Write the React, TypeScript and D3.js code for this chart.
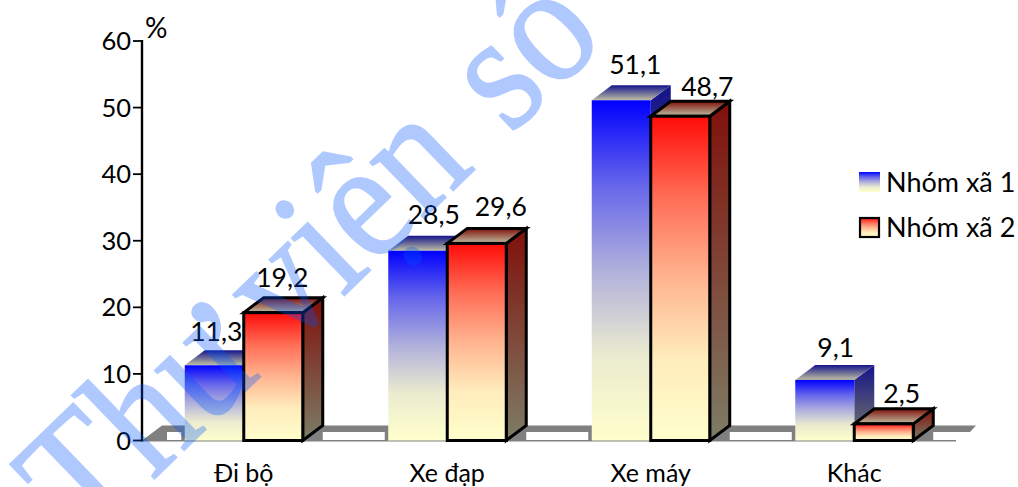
import React from "react";
import * as d3 from "d3";

// Travel modes and the share of trips for each commune group (%)
const categories = ["Đi bộ", "Xe đạp", "Xe máy", "Khác"];
const group1 = [11.3, 28.5, 51.1, 9.1];
const group2 = [19.2, 29.6, 48.7, 2.5];
const yTicks = [0, 10, 20, 30, 40, 50, 60];
const seriesNames = ["Nhóm xã 1", "Nhóm xã 2"];

const W = 1018;
const H = 487;
const AXIS_X = 142;
const FONT = "Lato, 'Open Sans', sans-serif";
const DEPTH_X = 20;
const DEPTH_Y = 15;
const BAR_W = 59;

const x = d3.scaleBand<string>().domain(categories).range([AXIS_X, AXIS_X + 814]);
const y = d3.scaleLinear().domain([0, 60]).range([440.5, 41]);
const poly = d3.line();

const fmt = (v: number) => v.toFixed(1).replace(".", ",");

// Hand-placed data labels: offset from the centre of each bar's front face and above its back edge
const labelShift = [
  [[2, -9], [9, -10.5]],
  [[16, -11.5], [24, -12.5]],
  [[14, -11], [27, -5]],
  [[11, -8], [18, -6]],
];

// Front faces fade quickly towards the pale end: [offset, mix towards pale]
const fadeStops = [
  [0, 0],
  [0.25, 0.4],
  [0.5, 0.69],
  [0.75, 0.92],
  [1, 1],
];

function Bar({ left, value, id, outlined }: { left: number; value: number; id: string; outlined: boolean }) {
  const top = y(value);
  const base = y(0);
  const right = left + BAR_W;
  const stroke = outlined ? "#000" : "none";
  const sw = outlined ? 3 : 0;
  const side = poly([[right, top], [right + DEPTH_X, top - DEPTH_Y], [right + DEPTH_X, base - DEPTH_Y], [right, base]]) + "Z";
  const cap = poly([[left, top], [left + DEPTH_X, top - DEPTH_Y], [right + DEPTH_X, top - DEPTH_Y], [right, top]]) + "Z";
  return (
    <g stroke={stroke} strokeWidth={sw} strokeLinejoin="miter">
      <path d={side} fill={`url(#${id}-side)`} />
      <path d={cap} fill={`url(#${id}-cap)`} />
      <rect x={left} y={top} width={BAR_W} height={base - top} fill={`url(#${id}-front)`} />
    </g>
  );
}

function Gradients({ id, main, dark }: { id: string; main: string; dark: string }) {
  const mix = d3.interpolateRgb(main, "#ffffcc");
  return (
    <>
      <linearGradient id={`${id}-front`} x1="0" y1="0" x2="0" y2="1">
        {fadeStops.map(([o, t]) => (
          <stop key={o} offset={o} stopColor={mix(t)} />
        ))}
      </linearGradient>
      <linearGradient id={`${id}-side`} x1="0" y1="0" x2="0" y2="1">
        <stop offset="0" stopColor={dark} />
        <stop offset="1" stopColor="#7d7d66" />
      </linearGradient>
      <linearGradient id={`${id}-cap`} x1="0" y1="0" x2="0" y2="1">
        <stop offset="0" stopColor={dark} />
        <stop offset="1" stopColor="#bfbfa3" />
      </linearGradient>
    </>
  );
}

export default function App() {
  const base = y(0);
  const floorRight = x.range()[1];
  return (
    <svg width={W} height={H} style={{ position: "absolute", left: 0, top: 0, background: "#fff" }} fontFamily={FONT}>
      <defs>
        <Gradients id="blue" main="#0000ff" dark="#14148c" />
        <Gradients id="red" main="#ff0c08" dark="#80100a" />
      </defs>

      {/* floor of the 3D plot */}
      <path
        d={poly([[AXIS_X, base], [AXIS_X + DEPTH_X, base - DEPTH_Y], [floorRight + DEPTH_X, base - DEPTH_Y], [floorRight + 14, base - 8.5], [floorRight, base - 8.5], [floorRight, base]]) + "Z"}
        fill="#808080"
      />
      {[0, 1, 2, 3, 4].map((i) => {
        const from = i === 0 ? AXIS_X + 25 : x(categories[i - 1])! + x.bandwidth() / 2 + BAR_W + DEPTH_X;
        const to = i === 4 ? floorRight + 3 : x(categories[i])! + x.bandwidth() / 2 - BAR_W - 3.5;
        return <rect key={i} x={from} y={base - 8.5} width={to - from} height={8} fill="#fff" />;
      })}
      <line x1={AXIS_X} x2={floorRight} y1={base + 0.3} y2={base + 0.3} stroke="#808080" strokeWidth={1.5} />

      {/* bars */}
      {categories.map((c, i) => {
        const mid = x(c)! + x.bandwidth() / 2;
        return (
          <g key={c}>
            <Bar left={mid - BAR_W} value={group1[i]} id="blue" outlined={false} />
            <Bar left={mid} value={group2[i]} id="red" outlined />
          </g>
        );
      })}

      {/* y axis */}
      <line x1={AXIS_X} x2={AXIS_X} y1={y(60) - 1} y2={base + 1} stroke="#000" strokeWidth={2.4} />
      {yTicks.map((t) => (
        <g key={t}>
          <line x1={AXIS_X - 9} x2={AXIS_X} y1={y(t)} y2={y(t)} stroke="#000" strokeWidth={1.8} />
          <text x={AXIS_X - 11} y={y(t) + 9} textAnchor="end" fontSize={25.5} fill="#000">{t}</text>
        </g>
      ))}
      <text x={145} y={38} fontSize={28} fill="#000">%</text>

      {/* category labels */}
      {categories.map((c) => (
        <text key={c} x={x(c)! + x.bandwidth() / 2} y={482} textAnchor="middle" fontSize={25} fill="#000">{c}</text>
      ))}

      {/* value labels */}
      {categories.map((c, i) => {
        const mid = x(c)! + x.bandwidth() / 2;
        return [group1[i], group2[i]].map((v, s) => (
          <text
            key={s}
            x={mid + (s === 0 ? -BAR_W / 2 : BAR_W / 2) + labelShift[i][s][0]}
            y={y(v) - DEPTH_Y + labelShift[i][s][1]}
            textAnchor="middle"
            fontSize={26.5}
            fill="#000"
          >
            {fmt(v)}
          </text>
        ));
      })}

      {/* legend */}
      <rect x={859} y={172} width={21} height={20} fill="url(#blue-front)" />
      <rect x={860} y={218} width={19} height={19} fill="url(#red-front)" stroke="#000" strokeWidth={2.2} />
      {seriesNames.map((n, i) => (
        <text key={n} x={886} y={192 + i * 45} fontSize={27} fill="#000">{n}</text>
      ))}

      {/* translucent diagonal stamp over the whole chart */}
      <text
        transform="translate(85,546) rotate(-44) scale(1.02,1.13)"
        fontFamily="'Liberation Serif', serif"
        fontSize={150}
        fill="#0055ff"
        stroke="#0055ff"
        strokeWidth={1.5}
        opacity={0.31}
      >
        <tspan>Thư</tspan>
        <tspan dx={-10}> viện</tspan>
        <tspan dx={8}> số</tspan>
      </text>
    </svg>
  );
}
